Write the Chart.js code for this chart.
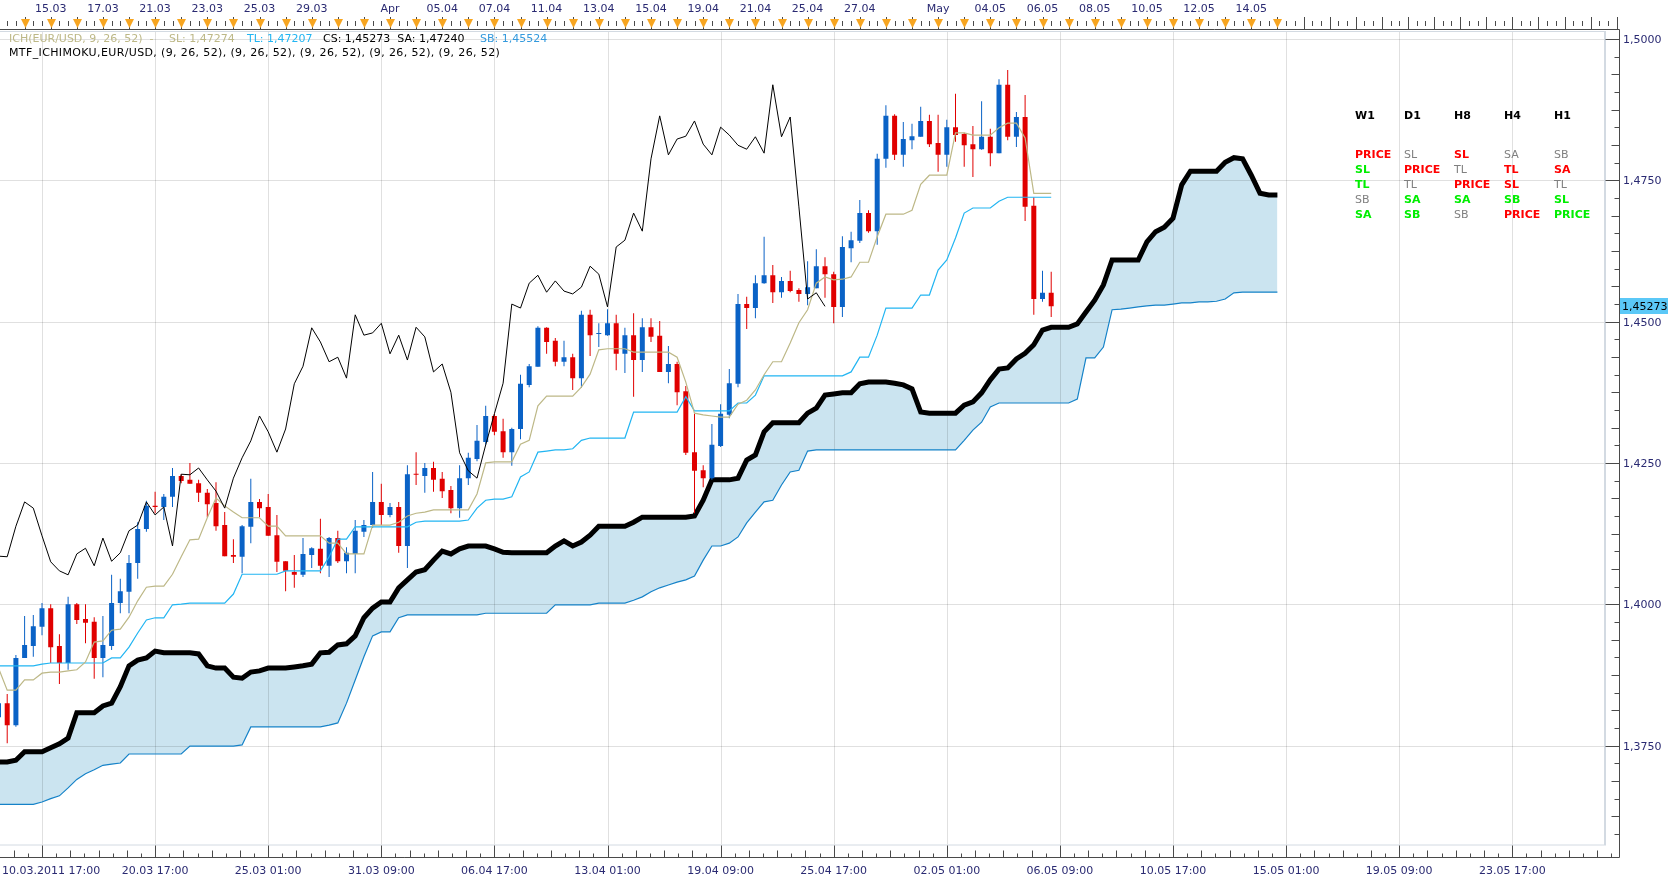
<!DOCTYPE html>
<html>
<head>
<meta charset="utf-8">
<title>EUR/USD H8 Ichimoku</title>
<script src="https://cdn.jsdelivr.net/npm/chart.js@4.4.1/dist/chart.umd.min.js"></script>
<style>
  html, body { margin: 0; padding: 0; background: #fff; }
  #wrap { width: 1676px; height: 882px; position: relative; }
</style>
</head>
<body>
<div id="wrap"><canvas id="chart"></canvas></div>
<script>
// H8 bars, index 0 is the candle cut by the left edge
const opens = [1.3800,1.3825,1.3786,1.3905,1.3926,1.3960,1.3993,1.3926,1.3896,1.4000,
  1.3974,1.3969,1.3905,1.3926,1.4002,1.4022,1.4073,1.4133,1.4174,1.4172,
  1.4190,1.4227,1.4220,1.4214,1.4197,1.4179,1.4140,1.4087,1.4084,1.4137,
  1.4181,1.4172,1.4122,1.4076,1.4057,1.4052,1.4087,1.4098,1.4068,1.4117,
  1.4076,1.4089,1.4128,1.4140,1.4181,1.4158,1.4172,1.4103,1.4230,1.4227,
  1.4241,1.4222,1.4202,1.4170,1.4223,1.4257,1.4287,1.4333,1.4306,1.4269,
  1.4310,1.4388,1.4420,1.4489,1.4466,1.4429,1.4437,1.4400,1.4512,1.4478,
  1.4476,1.4497,1.4443,1.4476,1.4432,1.4490,1.4475,1.4411,1.4425,1.4377,
  1.4269,1.4237,1.4223,1.4280,1.4335,1.4390,1.4531,1.4524,1.4568,1.4582,
  1.4552,1.4572,1.4556,1.4549,1.4559,1.4598,1.4584,1.4526,1.4630,1.4643,
  1.4692,1.4660,1.4788,1.4864,1.4795,1.4821,1.4827,1.4855,1.4816,1.4795,
  1.4844,1.4832,1.4814,1.4805,1.4827,1.4798,1.4919,1.4827,1.4862,1.4705,
  1.4540,1.4551];
const highs = [1.3834,1.3841,1.3910,1.3979,1.3981,1.4002,1.4000,1.3947,1.4013,1.4002,
  1.4000,1.3977,1.3979,1.4052,1.4045,1.4087,1.4145,1.4183,1.4199,1.4195,
  1.4241,1.4230,1.4250,1.4220,1.4204,1.4216,1.4163,1.4115,1.4140,1.4222,
  1.4186,1.4195,1.4158,1.4076,1.4087,1.4117,1.4101,1.4151,1.4119,1.4130,
  1.4101,1.4149,1.4149,1.4234,1.4213,1.4179,1.4181,1.4246,1.4269,1.4250,
  1.4252,1.4234,1.4209,1.4246,1.4268,1.4317,1.4351,1.4337,1.4328,1.4312,
  1.4406,1.4425,1.4492,1.4490,1.4471,1.4466,1.4443,1.4519,1.4521,1.4497,
  1.4522,1.4512,1.4489,1.4515,1.4506,1.4506,1.4501,1.4457,1.4429,1.4386,
  1.4337,1.4246,1.4319,1.4354,1.4416,1.4549,1.4544,1.4582,1.4650,1.4600,
  1.4579,1.4590,1.4559,1.4607,1.4628,1.4614,1.4588,1.4651,1.4659,1.4715,
  1.4697,1.4797,1.4883,1.4867,1.4853,1.4850,1.4880,1.4866,1.4866,1.4857,
  1.4903,1.4834,1.4846,1.4890,1.4841,1.4929,1.4945,1.4871,1.4901,1.4720,
  1.4590,1.4588];
const lows = [1.3795,1.3754,1.3783,1.3905,1.3907,1.3945,1.3896,1.3859,1.3884,1.3965,
  1.3931,1.3868,1.3871,1.3919,1.3984,1.3984,1.4045,1.4128,1.4161,1.4149,
  1.4172,1.4214,1.4213,1.4181,1.4154,1.4130,1.4085,1.4073,1.4055,1.4108,
  1.4154,1.4121,1.4057,1.4023,1.4029,1.4048,1.4064,1.4055,1.4048,1.4073,
  1.4055,1.4055,1.4119,1.4135,1.4140,1.4154,1.4091,1.4064,1.4211,1.4197,
  1.4199,1.4188,1.4161,1.4153,1.4211,1.4253,1.4282,1.4299,1.4259,1.4245,
  1.4292,1.4384,1.4420,1.4443,1.4421,1.4421,1.4379,1.4383,1.4439,1.4455,
  1.4475,1.4414,1.4409,1.4367,1.4411,1.4464,1.4411,1.4391,1.4352,1.4264,
  1.4161,1.4207,1.4220,1.4278,1.4329,1.4384,1.4487,1.4506,1.4567,1.4533,
  1.4542,1.4552,1.4535,1.4529,1.4559,1.4542,1.4497,1.4508,1.4605,1.4639,
  1.4657,1.4636,1.4772,1.4786,1.4774,1.4805,1.4827,1.4809,1.4765,1.4774,
  1.4818,1.4774,1.4756,1.4804,1.4775,1.4798,1.4821,1.4809,1.4678,1.4512,
  1.4535,1.4508];
const closes = [1.3825,1.3786,1.3905,1.3928,1.3961,1.3993,1.3924,1.3896,1.4000,1.3972,
  1.3967,1.3905,1.3928,1.4002,1.4023,1.4073,1.4133,1.4174,1.4172,1.4190,
  1.4227,1.4218,1.4213,1.4197,1.4177,1.4138,1.4085,1.4084,1.4138,1.4181,
  1.4170,1.4121,1.4075,1.4059,1.4052,1.4089,1.4099,1.4068,1.4117,1.4076,
  1.4091,1.4130,1.4140,1.4181,1.4158,1.4172,1.4103,1.4230,1.4229,1.4241,
  1.4220,1.4200,1.4170,1.4223,1.4259,1.4289,1.4333,1.4305,1.4269,1.4310,
  1.4390,1.4421,1.4489,1.4464,1.4429,1.4437,1.4400,1.4512,1.4476,1.4480,
  1.4497,1.4443,1.4476,1.4432,1.4490,1.4473,1.4411,1.4425,1.4375,1.4268,
  1.4236,1.4223,1.4282,1.4337,1.4391,1.4531,1.4524,1.4568,1.4582,1.4552,
  1.4572,1.4554,1.4549,1.4561,1.4598,1.4584,1.4526,1.4632,1.4644,1.4692,
  1.4660,1.4788,1.4864,1.4795,1.4823,1.4828,1.4855,1.4814,1.4795,1.4844,
  1.4830,1.4812,1.4805,1.4827,1.4798,1.4919,1.4827,1.4862,1.4703,1.4540,
  1.4551,1.4527];

// SL (khaki) and TL (light blue) lines, one value per candle
const slLine = [1.3887,1.3848,1.3848,1.3866,1.3866,1.3878,1.3880,1.3880,1.3882,1.3884,
  1.3898,1.3933,1.3935,1.3954,1.3956,1.3977,1.4006,1.4030,1.4032,1.4032,
  1.4053,1.4084,1.4114,1.4115,1.4153,1.4188,1.4174,1.4163,1.4153,1.4153,
  1.4153,1.4138,1.4138,1.4121,1.4121,1.4121,1.4121,1.4121,1.4108,1.4108,
  1.4089,1.4089,1.4089,1.4140,1.4140,1.4140,1.4145,1.4156,1.4161,1.4163,
  1.4167,1.4167,1.4167,1.4167,1.4167,1.4195,1.4250,1.4252,1.4252,1.4252,
  1.4283,1.4290,1.4351,1.4368,1.4368,1.4368,1.4368,1.4384,1.4407,1.4450,
  1.4452,1.4452,1.4452,1.4446,1.4446,1.4446,1.4446,1.4446,1.4437,1.4393,
  1.4338,1.4335,1.4333,1.4331,1.4331,1.4354,1.4361,1.4379,1.4406,1.4429,
  1.4429,1.4462,1.4498,1.4521,1.4568,1.4579,1.4574,1.4575,1.4579,1.4605,
  1.4605,1.4650,1.4690,1.4690,1.4690,1.4697,1.4743,1.4759,1.4759,1.4759,
  1.4834,1.4834,1.4830,1.4830,1.4830,1.4843,1.4851,1.4851,1.4825,1.4727,
  1.4727,1.4727];
const tlLine = [1.3891,1.3891,1.3891,1.3891,1.3891,1.3894,1.3896,1.3896,1.3896,1.3896,
  1.3896,1.3896,1.3896,1.3905,1.3905,1.3924,1.3949,1.3972,1.3976,1.3976,
  1.3999,1.4000,1.4002,1.4002,1.4002,1.4002,1.4002,1.4018,1.4053,1.4053,
  1.4053,1.4053,1.4053,1.4059,1.4059,1.4059,1.4059,1.4059,1.4084,1.4115,
  1.4115,1.4137,1.4137,1.4137,1.4137,1.4137,1.4137,1.4137,1.4145,1.4147,
  1.4147,1.4147,1.4147,1.4147,1.4149,1.4170,1.4184,1.4186,1.4186,1.4190,
  1.4225,1.4234,1.4269,1.4271,1.4273,1.4273,1.4275,1.4290,1.4294,1.4294,
  1.4294,1.4294,1.4294,1.4340,1.4340,1.4340,1.4340,1.4340,1.4340,1.4367,
  1.4342,1.4342,1.4342,1.4342,1.4342,1.4356,1.4356,1.4370,1.4404,1.4404,
  1.4404,1.4404,1.4404,1.4404,1.4404,1.4404,1.4404,1.4404,1.4411,1.4437,
  1.4437,1.4476,1.4524,1.4524,1.4524,1.4524,1.4547,1.4547,1.4591,1.4609,
  1.4648,1.4692,1.4701,1.4701,1.4701,1.4713,1.4720,1.4720,1.4720,1.4720,
  1.4720,1.4720];

// cloud edges, running 26 bars past the last candle
const senkouA = [1.3721,1.3721,1.3724,1.3739,1.3739,1.3739,1.3746,1.3753,1.3763,1.3808,
  1.3808,1.3808,1.3820,1.3825,1.3854,1.3891,1.3901,1.3905,1.3917,1.3914,
  1.3914,1.3914,1.3914,1.3912,1.3891,1.3887,1.3887,1.3871,1.3869,1.3880,
  1.3882,1.3887,1.3887,1.3887,1.3889,1.3891,1.3894,1.3914,1.3915,1.3928,
  1.3930,1.3944,1.3976,1.3993,1.4004,1.4004,1.4029,1.4043,1.4057,1.4061,
  1.4078,1.4094,1.4089,1.4098,1.4103,1.4103,1.4103,1.4098,1.4092,1.4091,
  1.4091,1.4091,1.4091,1.4091,1.4103,1.4112,1.4103,1.4110,1.4122,1.4138,
  1.4138,1.4138,1.4138,1.4145,1.4154,1.4154,1.4154,1.4154,1.4154,1.4154,
  1.4156,1.4184,1.4220,1.4220,1.4220,1.4223,1.4255,1.4264,1.4305,1.4321,
  1.4321,1.4321,1.4321,1.4338,1.4347,1.4370,1.4372,1.4374,1.4374,1.4390,
  1.4393,1.4393,1.4393,1.4391,1.4388,1.4381,1.4340,1.4338,1.4338,1.4338,
  1.4338,1.4352,1.4358,1.4374,1.4397,1.4416,1.4418,1.4434,1.4444,1.4459,
  1.4485,1.4490,1.4490,1.4490,1.4496,1.4517,1.4538,1.4565,1.4609,1.4609,
  1.4609,1.4609,1.4641,1.4659,1.4667,1.4683,1.4742,1.4766,1.4766,1.4766,
  1.4766,1.4782,1.4790,1.4788,1.4759,1.4727,1.4724,1.4724];
const senkouB = [1.3646,1.3646,1.3646,1.3646,1.3646,1.3650,1.3656,1.3661,1.3675,1.3690,
  1.3700,1.3707,1.3715,1.3717,1.3719,1.3735,1.3735,1.3735,1.3735,1.3735,
  1.3735,1.3735,1.3749,1.3749,1.3749,1.3749,1.3749,1.3749,1.3751,1.3783,
  1.3783,1.3783,1.3783,1.3783,1.3783,1.3783,1.3783,1.3783,1.3786,1.3790,
  1.3825,1.3866,1.3907,1.3944,1.3951,1.3951,1.3976,1.3981,1.3981,1.3981,
  1.3981,1.3981,1.3981,1.3981,1.3981,1.3981,1.3984,1.3984,1.3984,1.3984,
  1.3984,1.3984,1.3984,1.3984,1.3999,1.3999,1.3999,1.3999,1.3999,1.4002,
  1.4002,1.4002,1.4002,1.4007,1.4013,1.4022,1.4029,1.4034,1.4039,1.4043,
  1.4050,1.4078,1.4103,1.4103,1.4108,1.4119,1.4144,1.4163,1.4181,1.4184,
  1.4211,1.4234,1.4237,1.4271,1.4273,1.4273,1.4273,1.4273,1.4273,1.4273,
  1.4273,1.4273,1.4273,1.4273,1.4273,1.4273,1.4273,1.4273,1.4273,1.4273,
  1.4273,1.4290,1.4308,1.4322,1.4349,1.4356,1.4356,1.4356,1.4356,1.4356,
  1.4356,1.4356,1.4356,1.4356,1.4363,1.4436,1.4436,1.4455,1.4521,1.4522,
  1.4524,1.4526,1.4528,1.4529,1.4529,1.4531,1.4533,1.4533,1.4535,1.4535,
  1.4536,1.4540,1.4551,1.4552,1.4552,1.4552,1.4552,1.4552];
const chikouShift = 26; // CS = close plotted 26 bars back

const yTicks = [1.375, 1.4, 1.425, 1.45, 1.475, 1.5];
const yTickLabels = ['1,3750', '1,4000', '1,4250', '1,4500', '1,4750', '1,5000'];
const bottomTickBars = [5, 18, 31, 44, 57, 70, 83, 96, 109, 122, 135, 148, 161, 174];
const bottomTickLabels = ['10.03.2011 17:00', '20.03 17:00', '25.03 01:00', '31.03 09:00', '06.04 17:00',
  '13.04 01:00', '19.04 09:00', '25.04 17:00', '02.05 01:00', '06.05 09:00', '10.05 17:00',
  '15.05 01:00', '19.05 09:00', '23.05 17:00'];
const topTickBars = [6, 12, 18, 24, 30, 36, 45, 51, 57, 63, 69, 75, 81, 87, 93, 99, 108, 114, 120, 126, 132, 138, 144];
const topTickLabels = ['15.03', '17.03', '21.03', '23.03', '25.03', '29.03', 'Apr', '05.04', '07.04', '11.04',
  '13.04', '15.04', '19.04', '21.04', '25.04', '27.04', 'May', '04.05', '06.05', '08.05', '10.05', '12.05', '14.05'];
const lastPrice = 1.45273;
const lastPriceLabel = '1,45273';

const tableCols = ['W1', 'D1', 'H8', 'H4', 'H1'];
const tableRows = [
  [['PRICE', 'r'], ['SL', 'g'], ['SL', 'r'], ['SA', 'g'], ['SB', 'g']],
  [['SL', 'l'], ['PRICE', 'r'], ['TL', 'g'], ['TL', 'r'], ['SA', 'r']],
  [['TL', 'l'], ['TL', 'g'], ['PRICE', 'r'], ['SL', 'r'], ['TL', 'g']],
  [['SB', 'g'], ['SA', 'l'], ['SA', 'l'], ['SB', 'l'], ['SL', 'l']],
  [['SA', 'l'], ['SB', 'l'], ['SB', 'g'], ['PRICE', 'r'], ['PRICE', 'l']]
];

const BULL = '#0a62c6';
const BEAR = '#e00000';
const KHAKI = '#bdb887';
const TL_BLUE = '#22b5f2';
const SB_BLUE = '#1582c8';
const CLOUD = '#cbe4f0';
const AXIS_TXT = '#2a2a72';
const FONT = '"DejaVu Sans", Verdana, sans-serif';
const tableColor = { r: '#ff0000', l: '#00ee00', g: '#808080' };

const candleColor = c => (closes[c.dataIndex] >= opens[c.dataIndex] ? BULL : BEAR);
const toPts = arr => arr.map((v, i) => ({ x: i, y: v }));

function drawGrid(chart) {
    const { ctx, chartArea: a, scales: { x, y } } = chart;
    ctx.save();
    ctx.strokeStyle = 'rgba(0,0,0,0.12)';
    ctx.lineWidth = 1;
    ctx.beginPath();
    yTicks.forEach(v => {
        const py = Math.round(y.getPixelForValue(v)) + 0.5;
        ctx.moveTo(a.left, py);
        ctx.lineTo(a.right, py);
    });
    bottomTickBars.forEach(b => {
        const px = Math.round(x.getPixelForValue(b)) + 0.5;
        if (px > a.right) return;
        ctx.moveTo(px, a.top);
        ctx.lineTo(px, a.bottom);
    });
    ctx.stroke();
    ctx.restore();
}

function drawDecor(chart) {
    const { ctx, chartArea: a, scales: { x, y } } = chart;
    const axisX = 1619.5, topAxisY = 29.5, botAxisY = 857.5;
    ctx.save();

    // plot frame
    ctx.strokeStyle = '#d3dae2';
    ctx.lineWidth = 1;
    ctx.beginPath();
    ctx.moveTo(a.left, a.top - 0.5); ctx.lineTo(a.right, a.top - 0.5);
    ctx.moveTo(a.left, a.bottom + 0.5); ctx.lineTo(a.right, a.bottom + 0.5);
    ctx.stroke();
    ctx.lineWidth = 2;
    ctx.beginPath();
    ctx.moveTo(a.right + 1, a.top - 1); ctx.lineTo(a.right + 1, a.bottom + 1);
    ctx.stroke();

    // axis lines
    ctx.strokeStyle = '#4a4a4a';
    ctx.lineWidth = 1;
    ctx.beginPath();
    ctx.moveTo(0, topAxisY); ctx.lineTo(axisX, topAxisY);
    ctx.moveTo(axisX, topAxisY); ctx.lineTo(axisX, botAxisY);
    ctx.moveTo(0, botAxisY); ctx.lineTo(axisX, botAxisY);
    ctx.stroke();

    // right price axis
    ctx.beginPath();
    const step = 0.025 / 8;
    for (let k = 0; k < 60; k++) {
        const v = 1.35 + k * step;
        if (v < y.min || v > y.max) continue;
        const py = Math.round(y.getPixelForValue(v)) + 0.5;
        const len = k % 8 === 0 ? 14 : (k % 2 === 0 ? 8 : 5);
        ctx.moveTo(axisX - len, py); ctx.lineTo(axisX, py);
    }
    ctx.stroke();
    ctx.font = '11px ' + FONT;
    ctx.fillStyle = AXIS_TXT;
    ctx.textBaseline = 'middle';
    ctx.textAlign = 'left';
    yTicks.forEach((v, i) => {
        ctx.fillText(yTickLabels[i], 1623, Math.round(y.getPixelForValue(v)) + 1);
    });

    // last price tag
    const lp = Math.round(y.getPixelForValue(lastPrice));
    ctx.fillStyle = '#5bc8f7';
    ctx.fillRect(1620, lp - 8, 48, 16);
    ctx.fillStyle = '#000';
    ctx.fillText(lastPriceLabel, 1622, lp + 1);

    // bottom time axis
    ctx.strokeStyle = '#4a4a4a';
    ctx.beginPath();
    for (let k = -8; k < 160; k++) {
        const b = bottomTickBars[0] + k * 13 / 8;
        if (b < x.min || b > x.max + 1.5) continue;
        const px = Math.round(x.getPixelForValue(b)) + 0.5;
        const len = ((k % 8) + 8) % 8 === 0 ? 12 : (k % 2 === 0 ? 7 : 4);
        ctx.moveTo(px, botAxisY - len); ctx.lineTo(px, botAxisY);
    }
    ctx.stroke();
    ctx.fillStyle = AXIS_TXT;
    bottomTickBars.forEach((b, i) => {
        const px = x.getPixelForValue(b);
        const w = ctx.measureText(bottomTickLabels[i]).width;
        const left = Math.max(2, px - w / 2);
        ctx.fillText(bottomTickLabels[i], left, 871);
    });

    // top day axis with markers
    ctx.beginPath();
    for (let b = Math.ceil(x.min); b <= x.max + 1.5; b++) {
        const px = Math.round(x.getPixelForValue(b)) + 0.5;
        if (b % 3 === 0) { ctx.moveTo(px, 17); ctx.lineTo(px, topAxisY); }
        else { ctx.moveTo(px, 21); ctx.lineTo(px, 26); }
    }
    ctx.stroke();
    ctx.fillStyle = '#f7a520';
    for (let b = 3; b <= 147; b += 3) {
        const px = Math.round(x.getPixelForValue(b)) + 0.5;
        ctx.beginPath();
        ctx.moveTo(px - 4.5, 19); ctx.lineTo(px + 4.5, 19); ctx.lineTo(px, 28);
        ctx.closePath();
        ctx.fill();
    }
    ctx.fillStyle = AXIS_TXT;
    ctx.textAlign = 'center';
    topTickBars.forEach((b, i) => {
        ctx.fillText(topTickLabels[i], x.getPixelForValue(b), 9);
    });

    // indicator header
    ctx.textAlign = 'left';
    const header = [
        ['ICH(EUR/USD, 9, 26, 52)  -', 9, KHAKI],
        ['SL: 1,47274', 169, KHAKI],
        ['TL: 1,47207', 247, TL_BLUE],
        ['CS: 1,45273  SA: 1,47240', 323, '#000'],
        ['SB: 1,45524', 480, '#3399dd']
    ];
    header.forEach(([t, px, c]) => { ctx.fillStyle = c; ctx.fillText(t, px, 39); });
    ctx.fillStyle = '#000';
    ctx.letterSpacing = '0.37px';
    ctx.fillText('MTF_ICHIMOKU,EUR/USD, (9, 26, 52), (9, 26, 52), (9, 26, 52), (9, 26, 52), (9, 26, 52)', 9, 53);
    ctx.letterSpacing = '0px';

    // multi timeframe table
    const colX = [1355, 1404, 1454, 1504, 1554];
    const rowY = [155, 170, 185, 200, 215];
    ctx.font = 'bold 11px ' + FONT;
    tableCols.forEach((t, i) => ctx.fillText(t, colX[i], 116));
    tableRows.forEach((row, r) => {
        row.forEach(([t, k], c) => {
            ctx.font = (k === 'g' ? '' : 'bold ') + '11px ' + FONT;
            ctx.fillStyle = tableColor[k];
            ctx.fillText(t, colX[c], rowY[r]);
        });
    });
    ctx.restore();
}

const decorPlugin = {
    id: 'decor',
    beforeDraw(chart) {
        const c = chart.ctx;
        c.save();
        c.fillStyle = '#fff';
        c.fillRect(0, 0, chart.width, chart.height);
        c.restore();
    },
    afterDatasetDraw(chart, args) {
        // grid goes on top of the cloud, under candles and lines
        if (args.index === 6) drawGrid(chart);
    },
    afterDraw(chart) {
        drawDecor(chart);
    }
};

const lineBase = { type: 'line', pointRadius: 0, tension: 0, fill: false };

new Chart(document.getElementById('chart'), {
    type: 'line',
    data: {
        datasets: [
            { ...lineBase, label: 'CS', data: closes.slice(chikouShift).map((v, i) => ({ x: i, y: v })),
              borderColor: '#000', borderWidth: 1, order: 1 },
            { ...lineBase, label: 'SL', data: toPts(slLine), borderColor: KHAKI, borderWidth: 1.2, order: 2 },
            { ...lineBase, label: 'TL', data: toPts(tlLine), borderColor: TL_BLUE, borderWidth: 1.2, order: 3 },
            { type: 'bar', label: 'body', data: opens.map((o, i) => ({ x: i, y: [o, closes[i]] })),
              backgroundColor: candleColor, grouped: false, maxBarThickness: 5, minBarLength: 1,
              borderWidth: 0, order: 4 },
            { type: 'bar', label: 'wick', data: lows.map((l, i) => ({ x: i, y: [l, highs[i]] })),
              backgroundColor: candleColor, grouped: false, maxBarThickness: 1, borderWidth: 0, order: 5 },
            { ...lineBase, label: 'SB', data: toPts(senkouB), borderColor: SB_BLUE, borderWidth: 1.2, order: 6 },
            { ...lineBase, label: 'SA', data: toPts(senkouA), borderColor: '#000', borderWidth: 5, order: 7,
              fill: { target: 5, above: CLOUD, below: CLOUD } }
        ]
    },
    options: {
        responsive: true,
        maintainAspectRatio: false,
        animation: false,
        devicePixelRatio: 1,
        events: [],
        layout: { padding: { left: 0, top: 32, right: 72, bottom: 37.5 } },
        scales: {
            x: { type: 'linear', min: 0.172, max: 184.54, display: false, offset: false },
            y: { type: 'linear', min: 1.357488, max: 1.501238, display: false }
        },
        plugins: {
            legend: { display: false },
            tooltip: { enabled: false }
        }
    },
    plugins: [decorPlugin]
});
</script>
</body>
</html>
